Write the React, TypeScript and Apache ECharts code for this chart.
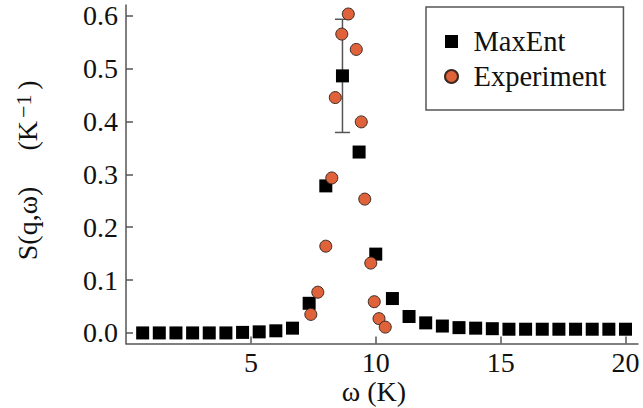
import React, { useEffect, useRef } from "react";
import * as echarts from "echarts";

// MaxEnt reconstruction: omega (K) and S(q, omega) (1/K)
const maxEntOmega = [
  0.667, 1.333, 2.0, 2.667, 3.333, 4.0, 4.667, 5.333, 6.0, 6.667,
  7.333, 8.0, 8.667, 9.333, 10.0, 10.667, 11.333, 12.0, 12.667, 13.333,
  14.0, 14.667, 15.333, 16.0, 16.667, 17.333, 18.0, 18.667, 19.333, 20.0,
];
const maxEntS = [
  0.0, 0.0, 0.0, 0.0, 0.0, 0.0, 0.001, 0.002, 0.004, 0.009,
  0.056, 0.278, 0.486, 0.342, 0.149, 0.065, 0.031, 0.019, 0.013, 0.01,
  0.009, 0.008, 0.007, 0.007, 0.007, 0.007, 0.007, 0.007, 0.007, 0.007,
];

// Experimental data
const expOmega = [7.4, 7.68, 8.0, 8.24, 8.38, 8.64, 8.9, 9.22, 9.42, 9.56, 9.8, 9.94, 10.13, 10.38];
const expS = [0.035, 0.077, 0.164, 0.293, 0.445, 0.565, 0.603, 0.536, 0.399, 0.253, 0.132, 0.059, 0.027, 0.011];

// Error bar on the MaxEnt peak
const errOmega = [8.667];
const errLow = [0.379];
const errHigh = [0.593];

// Tick labels
const xTicks = [5, 10, 15, 20];
const yTicks = [0.0, 0.1, 0.2, 0.3, 0.4, 0.5, 0.6];

const FONT = "Liberation Serif";
const AXIS_COLOR = "#555";
const TEXT_COLOR = "#111";

export default function App() {
  const ref = useRef<HTMLDivElement>(null);

  useEffect(() => {
    if (!ref.current) return;
    const chart = echarts.init(ref.current, undefined, { renderer: "svg" });

    const maxEntData = maxEntOmega.map((w, i) => [w, maxEntS[i]]);
    const expData = expOmega.map((w, i) => [w, expS[i]]);
    const errData = errOmega.map((w, i) => [w, errLow[i], errHigh[i]]);

    chart.setOption({
      animation: false,
      backgroundColor: "#fff",
      textStyle: { fontFamily: FONT },
      grid: {
        left: 126,
        right: 5,
        top: 5,
        bottom: 64.5,
        outerBoundsMode: "none",
      },
      legend: {
        orient: "vertical",
        left: 426,
        top: 7,
        padding: [20, 17, 19, 18],
        itemWidth: 34,
        itemHeight: 13,
        itemGap: 6,
        symbolKeepAspect: true,
        borderColor: AXIS_COLOR,
        borderWidth: 1.5,
        textStyle: { fontSize: 28.5, fontFamily: FONT, color: TEXT_COLOR },
        data: [
          { name: "MaxEnt", icon: "path://M0,0H10V10H0Z" },
          { name: "Experiment", icon: "circle" },
        ],
      },
      xAxis: {
        type: "value",
        min: 0,
        max: 20.5,
        interval: 5,
        name: "ω (K)",
        nameLocation: "middle",
        nameGap: 34,
        nameMoveOverlap: false,
        nameTextStyle: {
          fontSize: 28,
          fontFamily: FONT,
          color: TEXT_COLOR,
          lineHeight: 28,
          padding: [0, 16, 0, 0],
        },
        axisLine: { show: true, onZero: false, lineStyle: { color: AXIS_COLOR, width: 1.5 } },
        axisTick: {
          show: true,
          inside: true,
          length: 7,
          customValues: xTicks,
          lineStyle: { color: AXIS_COLOR, width: 1.5 },
        },
        axisLabel: {
          customValues: xTicks,
          fontSize: 28,
          fontFamily: FONT,
          color: TEXT_COLOR,
          lineHeight: 26,
          margin: 6,
        },
        splitLine: { show: false },
      },
      yAxis: {
        type: "value",
        min: -0.02,
        max: 0.62,
        name: "{a|S(q,ω)}{g| }{a|(K}{sup|−1}{a|)}",
        nameLocation: "middle",
        nameRotate: 90,
        nameGap: 84,
        nameTextStyle: {
          fontFamily: FONT,
          padding: [0, 0, 0, 8],
          rich: {
            a: { fontSize: 28, fontFamily: FONT, color: TEXT_COLOR, lineHeight: 30 },
            g: { fontSize: 28, fontFamily: FONT, width: 36, lineHeight: 30 },
            sup: {
              fontSize: 22,
              fontFamily: FONT,
              color: TEXT_COLOR,
              lineHeight: 30,
              verticalAlign: "top",
              padding: [0, 5, 0, 3],
            },
          },
        },
        axisLine: { show: true, onZero: false, lineStyle: { color: AXIS_COLOR, width: 1.5 } },
        axisTick: {
          show: true,
          inside: true,
          length: 7,
          customValues: yTicks,
          lineStyle: { color: AXIS_COLOR, width: 1.5 },
        },
        axisLabel: {
          customValues: yTicks,
          formatter: (v: number) => v.toFixed(1),
          fontSize: 28,
          fontFamily: FONT,
          color: TEXT_COLOR,
          margin: 8,
        },
        splitLine: { show: false },
      },
      series: [
        {
          name: "errorbar",
          type: "custom",
          z: 1,
          data: errData,
          encode: { x: 0, y: [1, 2] },
          renderItem: (params: any, api: any) => {
            const x = api.value(0);
            const lo = api.coord([x, api.value(1)]);
            const hi = api.coord([x, api.value(2)]);
            const cap = 7.5;
            const style = { stroke: AXIS_COLOR, lineWidth: 1.5 };
            return {
              type: "group",
              children: [
                { type: "line", shape: { x1: lo[0], y1: lo[1], x2: hi[0], y2: hi[1] }, style },
                { type: "line", shape: { x1: lo[0] - cap, y1: lo[1], x2: lo[0] + cap, y2: lo[1] }, style },
                { type: "line", shape: { x1: hi[0] - cap, y1: hi[1], x2: hi[0] + cap, y2: hi[1] }, style },
              ],
            };
          },
        },
        {
          name: "MaxEnt",
          type: "scatter",
          z: 2,
          symbol: "rect",
          symbolSize: 13,
          itemStyle: { color: "#000", opacity: 1 },
          data: maxEntData,
        },
        {
          name: "Experiment",
          type: "scatter",
          z: 3,
          symbol: "circle",
          symbolSize: 12,
          itemStyle: { color: "#E0623A", borderColor: "#3a2a22", borderWidth: 1, opacity: 1 },
          data: expData,
        },
      ],
    });

    return () => {
      chart.dispose();
    };
  }, []);

  return (
    <div
      ref={ref}
      style={{ position: "fixed", left: 0, top: 0, width: 643, height: 408 }}
    />
  );
}
